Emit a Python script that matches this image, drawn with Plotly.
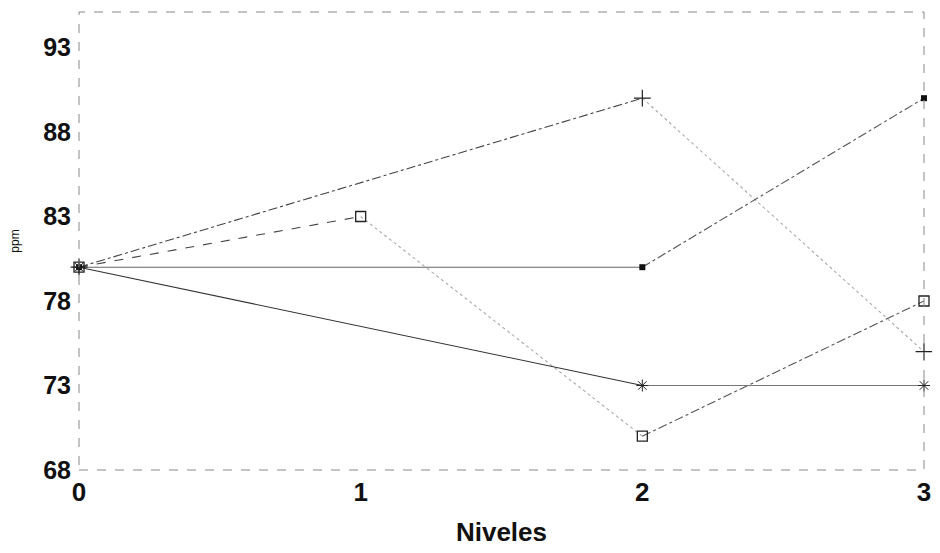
import plotly.graph_objects as go

niveles = [0, 1, 2, 3]
x_tick_labels = ["0", "1", "2", "3"]
y_tick_vals = [68, 73, 78, 83, 88, 93]

plus_x = [0, 2, 3]
plus_y = [80, 90, 75]
fsq_x = [0, 2, 3]
fsq_y = [80, 80, 90]
osq_x = [0, 1, 2, 3]
osq_y = [80, 83, 70, 78]
star_x = [0, 2, 3]
star_y = [80, 73, 73]

fig = go.Figure()

def seg(xs, ys, i, color, dash, width=1.1):
    fig.add_trace(go.Scatter(x=xs[i:i+2], y=ys[i:i+2], mode="lines",
                             line=dict(color=color, dash=dash, width=width),
                             showlegend=False, hoverinfo="skip"))

# series "+"
seg(plus_x, plus_y, 0, "#444", "dashdot")
seg(plus_x, plus_y, 1, "#aaa", "dot")
# filled square
seg(fsq_x, fsq_y, 0, "#666", "solid")
seg(fsq_x, fsq_y, 1, "#555", "dashdot")
# open square
seg(osq_x, osq_y, 0, "#444", "dash")
seg(osq_x, osq_y, 1, "#aaa", "dot")
seg(osq_x, osq_y, 2, "#555", "dashdot")
# star
seg(star_x, star_y, 0, "#333", "solid")
seg(star_x, star_y, 1, "#777", "solid")

fig.add_trace(go.Scatter(x=plus_x, y=plus_y, mode="markers",
                         marker=dict(symbol="cross-thin-open", size=12, color="#222",
                                     line=dict(color="#222", width=1.2)),
                         showlegend=False, cliponaxis=False))
fig.add_trace(go.Scatter(x=fsq_x, y=fsq_y, mode="markers",
                         marker=dict(symbol="square", size=6, color="#111"),
                         showlegend=False, cliponaxis=False))
fig.add_trace(go.Scatter(x=osq_x, y=osq_y, mode="markers",
                         marker=dict(symbol="square-open", size=10, color="#222",
                                     line=dict(color="#222", width=1.3)),
                         showlegend=False, cliponaxis=False))
fig.add_trace(go.Scatter(x=star_x, y=star_y, mode="markers",
                         marker=dict(symbol="asterisk-open", size=10, color="#222",
                                     line=dict(color="#222", width=1)),
                         showlegend=False, cliponaxis=False))

fig.add_shape(type="rect", xref="x domain", yref="y domain", x0=0, x1=1, y0=0, y1=1,
              line=dict(color="#888", width=1, dash="dash"))

fig.update_layout(
    width=932, height=545,
    margin=dict(l=71, r=16, t=4, b=83),
    paper_bgcolor="white", plot_bgcolor="white",
    font=dict(family="Liberation Sans, Arial", color="#111"),
    xaxis=dict(range=[0, 3], tickvals=niveles, ticktext=x_tick_labels,
               showgrid=False, zeroline=False, showline=False, ticks="",
               automargin=False, ticklabelstandoff=4,
               tickfont=dict(size=26, weight="bold"),
               title=dict(text="Niveles", font=dict(size=26, weight="bold"), standoff=16)),
    yaxis=dict(range=[68, 95.1], tickvals=y_tick_vals,
               showgrid=False, zeroline=False, showline=False, ticks="",
               automargin=False,
               tickfont=dict(size=25, weight="bold"), ticklabelstandoff=7,
               title=dict(text="ppm", font=dict(size=12), standoff=20)),
)

fig.write_html("out.html")
